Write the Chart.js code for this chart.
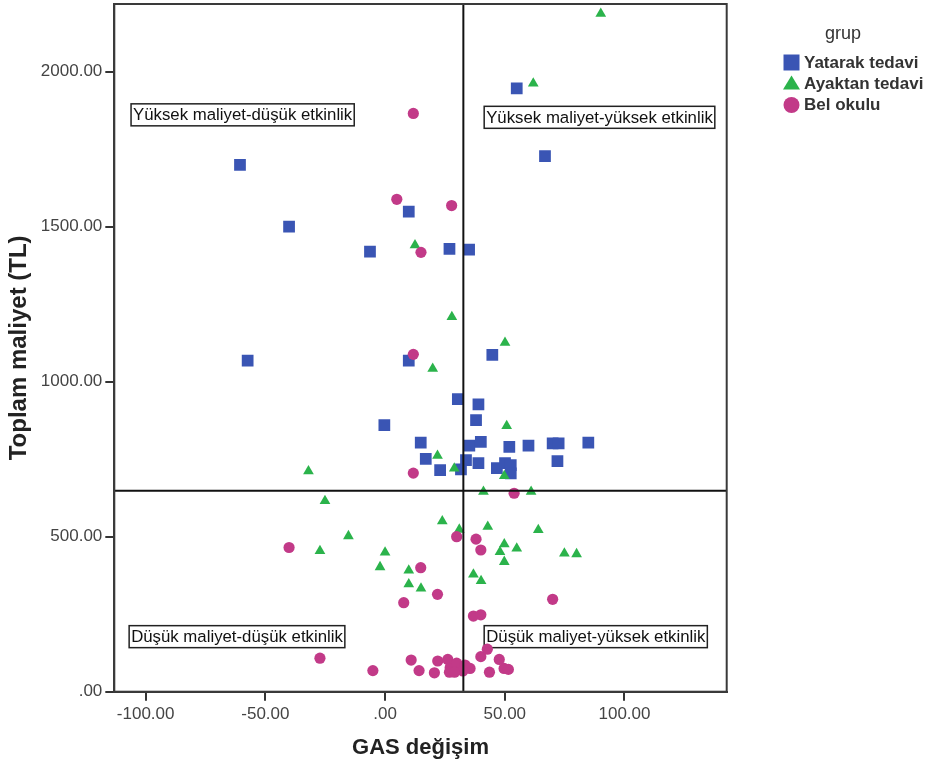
<!DOCTYPE html>
<html><head><meta charset="utf-8">
<script src="https://cdn.jsdelivr.net/npm/chart.js@4.4.1/dist/chart.umd.min.js"></script>
<style>html,body{margin:0;padding:0;background:#fff;} #wrap{width:931px;height:771px;position:relative;}</style>
</head><body><div id="wrap"><canvas id="c" width="931" height="771"></canvas></div>
<script>
// ---- data ----
const groupNames = ['Yatarak tedavi', 'Ayaktan tedavi', 'Bel okulu'];
const legendTitle = 'grup';
const xTitle = 'GAS değişim';
const yTitle = 'Toplam maliyet (TL)';

const yatarakX = [55.0, -60.6, 66.8, -40.1, 9.9, -6.3, 26.9, 35.1, -57.4, 9.9, 44.8, 30.4, 39.0, 38.0, -0.3, 14.9, 17.0, 23.0, 35.2, 40.0, 33.8, 39.0, 31.7, 51.9, 59.9, 70.0, 72.5, 84.9, 72.0, 46.7, 50.1, 52.5, 52.5];
const yatarakY = [1946, 1699, 1727, 1500, 1548, 1419, 1428, 1426, 1068, 1068, 1086, 944, 927, 876, 860, 803, 751, 715, 794, 806, 747, 737, 717, 790, 794, 801, 801, 803, 744, 721, 737, 731, 704];

const ayaktanX = [90.1, 61.9, 12.5, 27.9, 19.9, 50.1, 50.8, 21.9, 28.9, 49.8, -32.0, 41.1, 61.0, -25.1, 23.9, 31.0, 42.9, 64.0, -15.3, -27.2, 0.0, -2.1, 9.9, 9.9, 15.0, 49.8, 55.0, 48.0, 49.8, 74.9, 80.0, 36.9, 40.1];
const ayaktanY = [2187, 1962, 1440, 1209, 1042, 1126, 857, 761, 720, 696, 711, 645, 645, 615, 550, 523, 532, 522, 502, 454, 449, 402, 391, 347, 333, 476, 462, 451, 419, 446, 444, 378, 357];

const belX = [11.8, 4.9, 27.8, 15.0, 11.8, 11.8, 53.9, -40.1, 29.9, 38.0, 40.0, 14.9, 21.9, 7.8, 70.0, 36.9, 40.0, -27.2, -5.1, 10.9, 14.2, 20.6, 22.0, 26.2, 27.2, 26.9, 29.9, 33.4, 35.5, 40.0, 42.7, 47.7, 49.7, 51.5, 43.6, 32.5, 29.0];
const belY = [1865, 1588, 1568, 1417, 1088, 705, 640, 465, 500, 492, 457, 400, 314, 287, 298, 244, 248, 108, 68, 102, 68, 61, 99, 104, 77, 63, 92, 86, 75, 113, 137, 104, 75, 72, 63, 67, 63];

const xTicks = [-100, -50, 0, 50, 100];
const yTicks = [0, 500, 1000, 1500, 2000];
const refX = 32.7;   // vertical reference line (GAS)
const refY = 648;    // horizontal reference line (cost)
const quadrantLabels = ['Yüksek maliyet-düşük etkinlik', 'Yüksek maliyet-yüksek etkinlik', 'Düşük maliyet-düşük etkinlik', 'Düşük maliyet-yüksek etkinlik'];

// ---- config ----
const X_MIN = -113.1, X_MAX = 142.7, Y_MIN = 0, Y_MAX = 2218;
const FONT = '"Liberation Sans", Arial, Helvetica, sans-serif';
const colors = ['#3A55B4', '#2BB34B', '#C23A88'];
const pts = (xs, ys) => xs.map((x, i) => ({x, y: ys[i]}));

// label anchors (top-left of box), in data units
const labelAnchors = [[-106.1, 1896], [41.4, 1888], [-106.9, 213], [41.4, 213]];

const fmt = v => (v === 0 ? '.00' : Number(v).toFixed(2));

const quadrantPlugin = {
  id: 'quadrantLabels',
  beforeDatasetsDraw(chart) {
    const {ctx, scales: {x, y}} = chart;
    ctx.save();
    ctx.font = '16.8px ' + FONT;
    ctx.textBaseline = 'middle';
    ctx.textAlign = 'left';
    quadrantLabels.forEach((t, i) => {
      const px = x.getPixelForValue(labelAnchors[i][0]);
      const py = y.getPixelForValue(labelAnchors[i][1]);
      const w = ctx.measureText(t).width + 4;
      const h = 22;
      ctx.fillStyle = '#fff';
      ctx.fillRect(px, py, w, h);
      ctx.strokeStyle = '#222';
      ctx.lineWidth = 1.5;
      ctx.strokeRect(px, py, w, h);
      ctx.fillStyle = '#111';
      ctx.fillText(t, px + 2, py + h / 2 + 1);
    });
    ctx.restore();
  },
  afterDatasetsDraw(chart) {
    const {ctx, chartArea: a} = chart;
    ctx.save();
    ctx.strokeStyle = '#3a3a3a';
    ctx.lineWidth = 2;
    ctx.strokeRect(a.left, a.top, a.right - a.left, a.bottom - a.top);
    ctx.restore();
  },
  afterDraw(chart) {
    const ctx = chart.ctx;
    ctx.save();
    ctx.fillStyle = '#333';
    ctx.font = '18px ' + FONT;
    ctx.textAlign = 'center';
    ctx.textBaseline = 'alphabetic';
    ctx.fillText(legendTitle, 843, 39);
    const lx = 791.5;
    groupNames.forEach((name, i) => {
      const cy = 62.5 + i * 21;
      ctx.fillStyle = colors[i];
      ctx.beginPath();
      if (i === 0) {
        ctx.rect(lx - 8, cy - 8, 16, 16);
      } else if (i === 1) {
        ctx.moveTo(lx, cy - 8); ctx.lineTo(lx + 8.5, cy + 6); ctx.lineTo(lx - 8.5, cy + 6); ctx.closePath();
      } else {
        ctx.arc(lx, cy + 0.5, 8, 0, Math.PI * 2);
      }
      ctx.fill();
      ctx.fillStyle = '#333';
      ctx.font = 'bold 17px ' + FONT;
      ctx.textAlign = 'left';
      ctx.textBaseline = 'middle';
      ctx.fillText(name, 804, cy + 0.5);
    });
    ctx.restore();
  }
};

const tickFont = {family: FONT, size: 17};
new Chart(document.getElementById('c'), {
  type: 'scatter',
  data: {
    datasets: [
      {label: 'ref-x', type: 'line', data: [{x: refX, y: Y_MIN}, {x: refX, y: Y_MAX}], borderColor: '#111', borderWidth: 2, pointRadius: 0, order: 0},
      {label: 'ref-y', type: 'line', data: [{x: X_MIN, y: refY}, {x: X_MAX, y: refY}], borderColor: '#111', borderWidth: 2, pointRadius: 0, order: 0},
      {label: groupNames[2], data: pts(belX, belY), pointStyle: 'circle', pointRadius: 5.6, backgroundColor: colors[2], borderWidth: 0, order: 1},
      {label: groupNames[1], data: pts(ayaktanX, ayaktanY), pointStyle: 'triangle', pointRadius: 6.2, backgroundColor: colors[1], borderWidth: 0, order: 2},
      {label: groupNames[0], data: pts(yatarakX, yatarakY), pointStyle: 'rect', pointRadius: 8.3, backgroundColor: colors[0], borderWidth: 0, order: 3}
    ]
  },
  options: {
    responsive: false,
    animation: false,
    events: [],
    layout: {autoPadding: false, padding: {left: 0, top: 4, right: 204.3, bottom: 0}},
    plugins: {legend: {display: false}, tooltip: {enabled: false}},
    scales: {
      x: {
        type: 'linear', min: X_MIN, max: X_MAX,
        afterBuildTicks: s => { s.ticks = xTicks.map(v => ({value: v})); },
        afterFit: s => { s.height = 79.3; s.paddingLeft = 0; s.paddingRight = 0; },
        grid: {display: true, drawOnChartArea: false, drawTicks: true, tickLength: 9, color: '#333', lineWidth: 2},
        border: {display: true, color: '#3a3a3a', width: 2},
        ticks: {font: tickFont, color: '#444', padding: 3, maxRotation: 0, autoSkip: false, callback: fmt},
        title: {display: true, text: xTitle, color: '#222', font: {family: FONT, size: 22, weight: 'bold'}, padding: {top: 0, bottom: 9.8}}
      },
      y: {
        type: 'linear', min: Y_MIN, max: Y_MAX,
        afterBuildTicks: s => { s.ticks = yTicks.map(v => ({value: v})); },
        afterFit: s => { s.width = 114.3; s.paddingTop = 0; s.paddingBottom = 0; },
        grid: {display: true, drawOnChartArea: false, drawTicks: true, tickLength: 9, color: '#333', lineWidth: 2},
        border: {display: true, color: '#3a3a3a', width: 2},
        ticks: {font: tickFont, color: '#444', padding: 3, autoSkip: false, callback: fmt},
        title: {display: true, text: yTitle, color: '#222', font: {family: FONT, size: 24, weight: 'bold'}, padding: {top: 4.6, bottom: 0}}
      }
    }
  },
  plugins: [quadrantPlugin]
});
</script></body></html>
